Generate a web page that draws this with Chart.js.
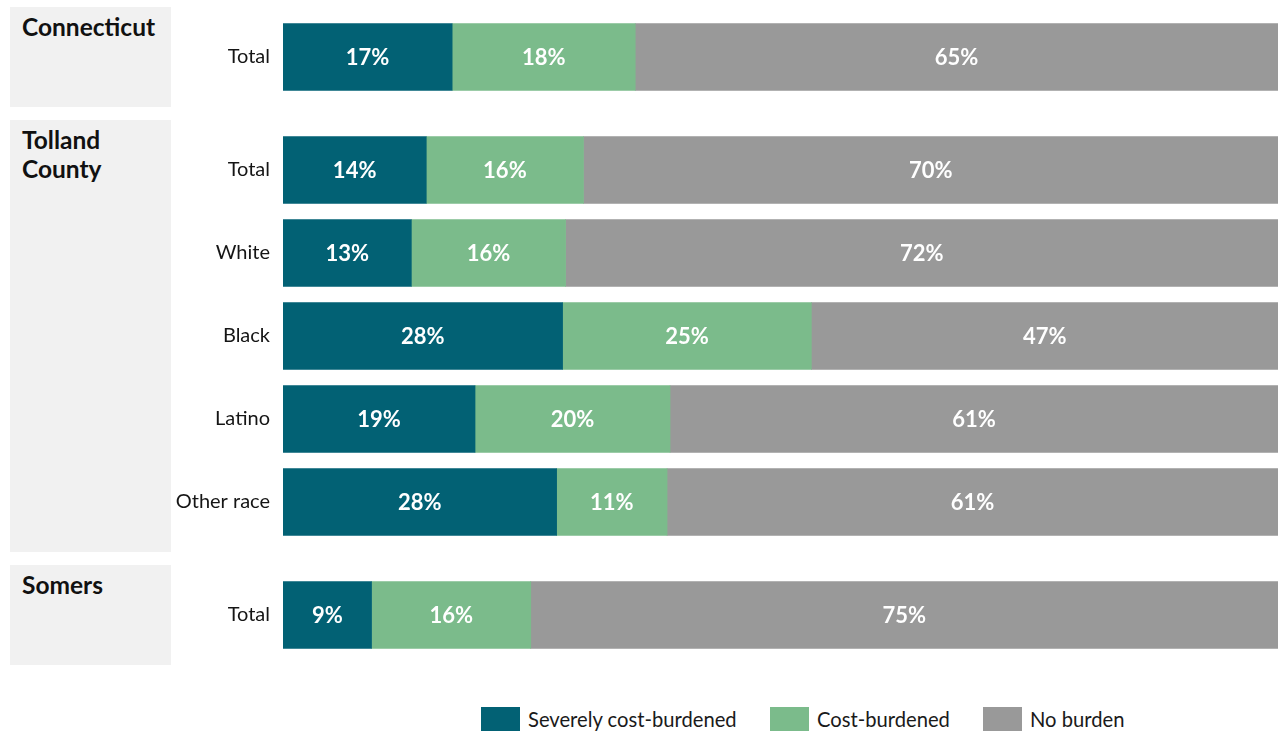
<!DOCTYPE html>
<html>
<head>
<meta charset="utf-8">
<script src="https://cdn.jsdelivr.net/npm/chart.js@4.4.1/dist/chart.umd.min.js"></script>
<style>
  html, body { margin: 0; padding: 0; background: #ffffff; }
  body { width: 1282px; height: 732px; position: relative; overflow: hidden; font-family: Lato, "Noto Sans", sans-serif; }
  .box { position: absolute; left: 10px; width: 161px; background: #f1f1f1; }
  .box .title { position: absolute; left: 12px; top: 5px; width: 130px; font-weight: bold; font-size: 24.5px; line-height: 29px; color: #111; }
  .panel { position: absolute; left: 171px; width: 1111px; }
  .panel canvas { display: block; }
  .legend-item { position: absolute; top: 707px; height: 24px; display: flex; align-items: center; font-size: 20.2px; color: #1a1a1a; white-space: nowrap; }
  .legend-item .sw { width: 39px; height: 24px; margin-right: 8px; }
</style>
</head>
<body>
<script>
// ---- data ----
const groupNames = ['Connecticut', 'Tolland County', 'Somers'];
const rowGroups = ['Connecticut', 'Tolland County', 'Tolland County', 'Tolland County', 'Tolland County', 'Tolland County', 'Somers'];
const rowLabels = ['Total', 'Total', 'White', 'Black', 'Latino', 'Other race', 'Total'];
const seriesNames = ['Severely cost-burdened', 'Cost-burdened', 'No burden'];
const severelyCostBurdened = [17.0, 14.4, 12.9, 28.1, 19.3, 27.5, 8.9];
const costBurdened = [18.4, 15.8, 15.5, 25.0, 19.6, 11.1, 16.0];
const noBurden = [64.6, 69.8, 71.6, 46.9, 61.1, 61.4, 75.1];
const seriesColors = ['#026174', '#7bbb8b', '#999999'];

// ---- layout ----
const ROW = 83, PAD = 8.5, GAP = 13, TOP0 = 7;
const FONT = 'Lato, "Noto Sans", sans-serif';

const valueLabelPlugin = {
  id: 'valueLabels',
  afterDatasetsDraw(chart) {
    const ctx = chart.ctx;
    ctx.save();
    ctx.font = 'bold 22px ' + FONT;
    ctx.fillStyle = '#ffffff';
    ctx.textAlign = 'center';
    ctx.textBaseline = 'middle';
    chart.data.datasets.forEach((ds, di) => {
      const meta = chart.getDatasetMeta(di);
      meta.data.forEach((el, i) => {
        const v = ds.data[i];
        const cx = (el.x + el.base) / 2;
        ctx.fillText(Math.round(v) + '%', cx, el.y + 1);
      });
    });
    ctx.restore();
  }
};

const allSeries = [severelyCostBurdened, costBurdened, noBurden];
let yPos = TOP0;
groupNames.forEach(g => {
  const idx = rowGroups.map((rg, i) => rg === g ? i : -1).filter(i => i >= 0);
  const h = idx.length * ROW + 2 * PAD;

  const box = document.createElement('div');
  box.className = 'box';
  box.style.top = yPos + 'px';
  box.style.height = h + 'px';
  const t = document.createElement('div');
  t.className = 'title';
  t.textContent = g;
  box.appendChild(t);
  document.body.appendChild(box);

  const panel = document.createElement('div');
  panel.className = 'panel';
  panel.style.top = yPos + 'px';
  panel.style.height = h + 'px';
  const cv = document.createElement('canvas');
  cv.width = 1111; cv.height = h;
  panel.appendChild(cv);
  document.body.appendChild(panel);

  new Chart(cv, {
    type: 'bar',
    data: {
      labels: idx.map(i => rowLabels[i]),
      datasets: seriesNames.map((name, si) => ({
        label: name,
        data: idx.map(i => allSeries[si][i]),
        backgroundColor: seriesColors[si],
        borderWidth: 0,
        barThickness: 67,
        categoryPercentage: 1
      }))
    },
    options: {
      indexAxis: 'y',
      responsive: false,
      animation: false,
      layout: { padding: { top: PAD, bottom: PAD, right: 4, left: 0 } },
      plugins: { legend: { display: false }, tooltip: { enabled: false } },
      scales: {
        x: { stacked: true, min: 0, max: 100, display: false },
        y: {
          stacked: true,
          grid: { display: false, drawTicks: false },
          border: { display: false },
          ticks: { padding: 13, color: '#151515', font: { family: FONT, size: 20 } },
          afterFit(scale) {
            scale.width = 112;
            scale.paddingTop = 0;
            scale.paddingBottom = 0;
          }
        }
      }
    },
    plugins: [valueLabelPlugin]
  });

  yPos += h + GAP;
});

// ---- legend ----
const legendLefts = [481, 770, 983];
seriesNames.forEach((name, si) => {
  const it = document.createElement('div');
  it.className = 'legend-item';
  it.style.left = legendLefts[si] + 'px';
  const sw = document.createElement('span');
  sw.className = 'sw';
  sw.style.background = seriesColors[si];
  const tx = document.createElement('span');
  tx.textContent = name;
  it.appendChild(sw); it.appendChild(tx);
  document.body.appendChild(it);
});
</script>
</body>
</html>
